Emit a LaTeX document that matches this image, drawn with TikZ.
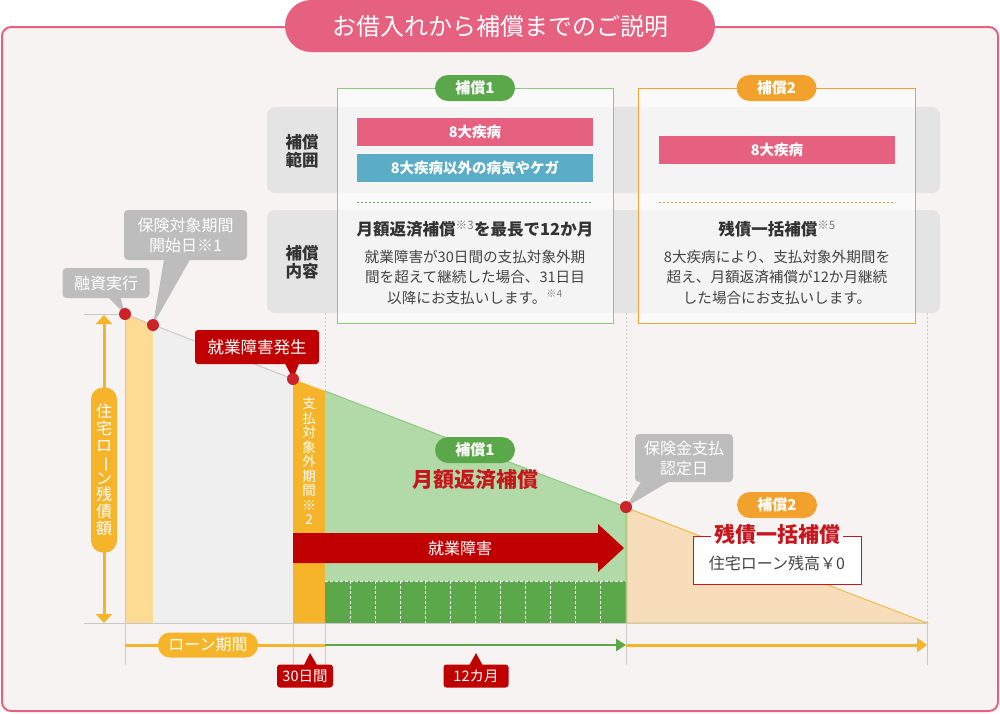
\documentclass[tikz,border=0pt]{standalone}
\usepackage{fontspec}
\setmainfont{Noto Sans CJK JP}
\usetikzlibrary{calc,arrows.meta}
\definecolor{cPink}{HTML}{E6617F}
\definecolor{cBg}{HTML}{F7F3F3}
\definecolor{cRow}{HTML}{E4E4E4}
\definecolor{cGreen}{HTML}{5BA84A}
\definecolor{cGreenL}{HTML}{8DC97E}
\definecolor{cGreenA}{HTML}{B2DAA8}
\definecolor{cOrange}{HTML}{F6B42A}
\definecolor{cOrangeT}{HTML}{F2A22C}
\definecolor{cYellow}{HTML}{FEDB92}
\definecolor{cPeach}{HTML}{F7DDBA}
\definecolor{cGrayA}{HTML}{EFEFEF}
\definecolor{cRed}{HTML}{C00000}
\definecolor{cRedT}{HTML}{C8161D}
\definecolor{cDot}{HTML}{CC2229}
\definecolor{cBlue}{HTML}{5BACC6}
\definecolor{cCall}{HTML}{BDBDBD}
\definecolor{cLine}{HTML}{C9C9C9}
\definecolor{cText}{HTML}{333333}
\definecolor{cText2}{HTML}{444444}
\newcommand\fsz[2]{\fontsize{#1}{#2}\selectfont}
\begin{document}
\begin{tikzpicture}[x=1pt,y=-1pt,
  every node/.style={inner sep=0pt,outer sep=0pt},
  tagpill/.style={rounded corners=13,minimum width=80,minimum height=26,text=white,font=\bfseries\fsz{15}{15}},
  barbox/.style={minimum width=236,minimum height=28,text=white,font=\bfseries\fsz{14.5}{15}},
  rowlabel/.style={font=\bfseries\fsz{16.5}{18},text=cText,align=center},
  headtxt/.style={font=\bfseries\fsz{16.5}{18},text=cText},
  bodytxt/.style={font=\fsz{14.6}{20.5},text=cText2,align=center},
  callgray/.style={fill=cCall,rounded corners=4,text=white,font=\fsz{16}{20},align=center},
  callred/.style={fill=cRed,rounded corners=3,text=white},
  gline/.style={cLine,line width=1},
  gdot/.style={cLine,line width=0.8,dash pattern=on 2pt off 2pt},
  reddot/.style={fill=cDot}]
\useasboundingbox (0,0) rectangle (1000,713);
% frame
\draw[cPink,line width=2,fill=cBg,rounded corners=9] (2,27) rectangle (998,711);
\node[fill=cPink,rounded corners=26,minimum width=430,minimum height=52,text=white,font=\fsz{24}{26}] (title) at (500,26) {お借入れから補償までのご説明};
% rows
\fill[cRow,rounded corners=8] (267,107) rectangle (940,193);
\fill[cRow,rounded corners=8] (267,210) rectangle (940,313);
\node[rowlabel] (lab1) at (302,151) {補償\\範囲};
\node[rowlabel] (lab2) at (302,262) {補償\\内容};
% boxes
\node[draw=cGreenL,line width=1,fill=white,fill opacity=0.6,minimum width=276,minimum height=235] (box1) at (475,205.5) {};
\node[draw=cOrangeT,line width=1,fill=white,fill opacity=0.6,minimum width=277,minimum height=235] (box2) at (776.5,205.5) {};
\node[tagpill,fill=cGreen] (tag1) at (box1.north) {補償1};
\node[tagpill,fill=cOrangeT] (tag2) at (box2.north) {補償2};
\node[barbox,fill=cPink] (bar1) at (475,132) {8大疾病};
\node[barbox,fill=cBlue] (bar2) at (475,168) {8大疾病以外の病気やケガ};
\node[barbox,fill=cPink] (bar3) at (777,150) {8大疾病};
\draw[cGreen,line width=1,dash pattern=on 2pt off 2pt] (357,202) -- (593,202);
\draw[cOrangeT,line width=1,dash pattern=on 2pt off 2pt] (659,202) -- (895,202);
\node[headtxt] (h1) at (475,229) {月額返済補償{\mdseries\color{gray}\textsuperscript{※3}}を最長で12か月};
\node[bodytxt] (body1) at (475,277) {就業障害が30日間の支払対象外期\\間を超えて継続した場合、31日目\\以降にお支払いします。{\color{gray}\textsuperscript{※4}}};
\node[headtxt] (h2) at (777,229) {残債一括補償{\mdseries\color{gray}\textsuperscript{※5}}};
\node[bodytxt] (body2) at (777,277) {8大疾病により、支払対象外期間を\\超え、月額返済補償が12か月継続\\した場合にお支払いします。};
% coordinates of chart
\coordinate (p0) at (125,314);
\coordinate (p1) at (153,325);
\coordinate (p2) at (293,379);
\coordinate (p3) at (325,391);
\coordinate (p4) at (626,507);
\coordinate (p5) at (927,623);
% dotted guides
\draw[gdot] (325,313) -- (p3);
\draw[gdot] (626,313) -- (p4);
\draw[gdot] (927,313) -- (p5);
% areas
\fill[cYellow] (p0) -- (p1) -- (153,623) -- (125,623) -- cycle;
\fill[cGrayA] (p1) -- (p2) -- (293,623) -- (153,623) -- cycle;
\fill[cOrange] (p2) -- (p3) -- (325,623) -- (293,623) -- cycle;
\fill[cGreenA] (p3) -- (p4) -- (626,623) -- (325,623) -- cycle;
\fill[cGreen] (325,581) rectangle (626,623);
\foreach \i in {1,...,11} \draw[white,line width=0.8,dash pattern=on 3pt off 2pt] ({325+\i*25.08},581) -- ({325+\i*25.08},623);
\draw[white,line width=0.8,dash pattern=on 3pt off 2pt] (325,581) -- (626,581);
\fill[cPeach] (p4) -- (p5) -- (626,623) -- cycle;
\draw[cOrange,line width=0.8] (627,508) -- (p5) -- (627,623) -- cycle;
\draw[cLine,line width=1] (p0) -- (p2);
\draw[cGreenL,line width=1] (p3) -- (p4) -- (626,623);
% axes
\draw[gline] (84,314) -- (p0);
\draw[gline] (84,623) -- (p5);
\draw[gline] (p0) -- (125,665);
\draw[gline] (293,623) -- (293,665);
\draw[gline] (325,623) -- (325,665);
\draw[gline] (626,623) -- (626,665);
\draw[gline] (927,623) -- (927,665);
% red arrow
\fill[cRed] (293,533) -- (598,533) -- (598,524) -- (624,548) -- (598,572) -- (598,563) -- (293,563) -- cycle;
\node[text=white,font=\fsz{16}{18}] (arrtxt) at (460,548) {就業障害};
% column text
\node[text=white,font=\fsz{13.5}{14.5},align=center] (col) at (309,461) {支\\払\\対\\象\\外\\期\\間\\※\\2};
% vertical axis
\draw[cOrange,line width=3,{Triangle[width=16pt,length=9pt]}-{Triangle[width=16pt,length=9pt]}] (104,315) -- (104,623);
\node[fill=cOrange,rounded corners=12,minimum width=26,minimum height=165,text=white,font=\fsz{16}{16.6},align=center] (axis) at (104,470) {住\\宅\\ロ\\\rotatebox[origin=c]{-90}{ー}\\ン\\残\\債\\額};
% bottom timeline
\draw[cOrange,line width=3] (125,645) -- (325,645);
\draw[cGreen,line width=2.5,-{Triangle[width=12pt,length=10pt]}] (325,645) -- (626,645);
\draw[cOrange,line width=3,-{Triangle[width=14pt,length=10pt]}] (626,645) -- (927,645);
\node[fill=cOrange,rounded corners=12,minimum width=100,minimum height=25,text=white,font=\fsz{16}{18}] (loan) at (208,645) {ローン期間};
\node[callred,minimum width=56,minimum height=23,font=\fsz{14.5}{16}] (d30) at (305,676) {30日間};
\fill[cRed] ($(d30.north)+(-1,0.5)$) -- ($(d30.north)+(12,0.5)$) -- (310,653) -- cycle;
\node[callred,minimum width=65,minimum height=23,font=\fsz{14.5}{16}] (m12) at (476,676) {12カ月};
\fill[cRed] ($(m12.north)+(-6.5,0.5)$) -- ($(m12.north)+(6.5,0.5)$) -- (476,653) -- cycle;
% callouts
\node[callgray,minimum width=87,minimum height=30] (c1) at (106,283) {融資実行};
\fill[cCall] ($(c1.south west)+(46,-0.5)$) -- ($(c1.south west)+(58,-0.5)$) -- (p0) -- cycle;
\node[callgray,minimum width=123,minimum height=50] (c2) at (185.5,235) {保険対象期間\\開始日※1};
\fill[cCall] ($(c2.south west)+(40,-0.5)$) -- ($(c2.south west)+(66,-0.5)$) -- (p1) -- cycle;
\node[callgray,minimum width=98,minimum height=48] (c3) at (684,458) {保険金支払\\認定日};
\fill[cCall] ($(c3.south west)+(6,-0.5)$) -- ($(c3.south west)+(34,-0.5)$) -- (p4) -- cycle;
\node[callred,minimum width=124,minimum height=34,font=\fsz{16.5}{18}] (c4) at (257,347) {就業障害発生};
\fill[cRed] ($(c4.south west)+(90,-0.5)$) -- ($(c4.south west)+(104,-0.5)$) -- (p2) -- cycle;
% dots
\foreach \p in {p0,p1,p2,p4} \fill[reddot] (\p) circle (6);
% labels in chart
\node[tagpill,fill=cGreen] (tag3) at (475,450) {補償1};
\node[text=cRedT,font=\bfseries\fsz{21}{24}] (m1) at (475,480) {月額返済補償};
\node[tagpill,fill=cOrangeT] (tag4) at (777,505) {補償2};
\fill[white] (693,536) rectangle (861,584);
\node[text=cRedT,font=\bfseries\fsz{21}{24},inner xsep=3pt] (m2) at (777,534) {残債一括補償};
\draw[cRedT,line width=1] (m2.west |- 0,536) -- (693,536) -- (693,584) -- (861,584) -- (861,536) -- (m2.east |- 0,536);
\node[text=cText2,font=\fsz{16}{18}] (zan) at (777,563) {住宅ローン残高￥0};
\end{tikzpicture}
\end{document}
